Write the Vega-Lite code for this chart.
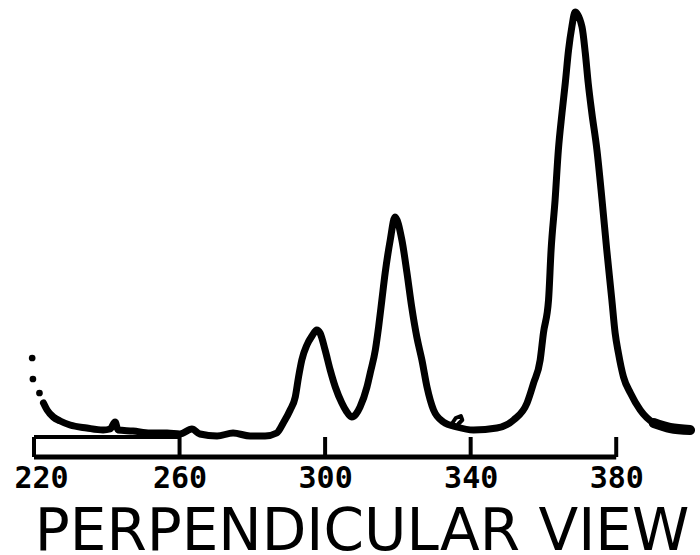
{
  "$schema": "https://vega.github.io/schema/vega-lite/v6.json",
  "autosize": "none",
  "width": 655,
  "height": 447,
  "padding": {"left": 34, "top": 10, "right": 11, "bottom": 98},
  "background": "white",
  "config": {"view": {"stroke": null}},
  "datasets": {
    "trace": [
      {"nm": 222.6, "signal": 54},
      {"nm": 223.6, "signal": 47},
      {"nm": 225.3, "signal": 40},
      {"nm": 227.2, "signal": 36},
      {"nm": 229.9, "signal": 32},
      {"nm": 234.5, "signal": 29},
      {"nm": 239.0, "signal": 27},
      {"nm": 240.9, "signal": 28},
      {"nm": 242.3, "signal": 35},
      {"nm": 243.1, "signal": 27},
      {"nm": 247.2, "signal": 26},
      {"nm": 251.9, "signal": 24},
      {"nm": 256.6, "signal": 24},
      {"nm": 260.1, "signal": 23},
      {"nm": 263.4, "signal": 28},
      {"nm": 265.6, "signal": 23},
      {"nm": 270.3, "signal": 21},
      {"nm": 274.7, "signal": 24},
      {"nm": 279.4, "signal": 21},
      {"nm": 283.5, "signal": 21},
      {"nm": 286.7, "signal": 24},
      {"nm": 288.5, "signal": 34},
      {"nm": 290.4, "signal": 47},
      {"nm": 291.8, "signal": 60},
      {"nm": 292.7, "signal": 80},
      {"nm": 293.6, "signal": 97},
      {"nm": 295.0, "signal": 112},
      {"nm": 296.4, "signal": 121},
      {"nm": 297.7, "signal": 127},
      {"nm": 298.6, "signal": 124},
      {"nm": 300.0, "signal": 107},
      {"nm": 301.4, "signal": 87},
      {"nm": 302.8, "signal": 70},
      {"nm": 304.6, "signal": 54},
      {"nm": 305.8, "signal": 46},
      {"nm": 307.3, "signal": 40},
      {"nm": 308.5, "signal": 43},
      {"nm": 309.6, "signal": 50},
      {"nm": 311.5, "signal": 70},
      {"nm": 312.4, "signal": 84},
      {"nm": 313.8, "signal": 107},
      {"nm": 314.7, "signal": 130},
      {"nm": 315.6, "signal": 157},
      {"nm": 316.5, "signal": 184},
      {"nm": 317.9, "signal": 217},
      {"nm": 319.2, "signal": 240},
      {"nm": 321.1, "signal": 217},
      {"nm": 322.5, "signal": 184},
      {"nm": 323.8, "signal": 150},
      {"nm": 325.2, "signal": 120},
      {"nm": 326.6, "signal": 97},
      {"nm": 328.0, "signal": 70},
      {"nm": 329.8, "signal": 47},
      {"nm": 332.5, "signal": 35},
      {"nm": 336.2, "signal": 30},
      {"nm": 340.8, "signal": 27},
      {"nm": 347.2, "signal": 29},
      {"nm": 351.8, "signal": 37},
      {"nm": 355.5, "signal": 54},
      {"nm": 357.3, "signal": 74},
      {"nm": 359.1, "signal": 97},
      {"nm": 360.0, "signal": 124},
      {"nm": 361.4, "signal": 157},
      {"nm": 362.1, "signal": 207},
      {"nm": 363.2, "signal": 257},
      {"nm": 364.1, "signal": 307},
      {"nm": 365.1, "signal": 344},
      {"nm": 366.0, "signal": 374},
      {"nm": 366.9, "signal": 407},
      {"nm": 367.8, "signal": 430},
      {"nm": 368.7, "signal": 445},
      {"nm": 370.6, "signal": 430},
      {"nm": 371.5, "signal": 404},
      {"nm": 372.3, "signal": 374},
      {"nm": 373.3, "signal": 344},
      {"nm": 374.7, "signal": 307},
      {"nm": 376.1, "signal": 257},
      {"nm": 377.4, "signal": 207},
      {"nm": 378.8, "signal": 157},
      {"nm": 379.7, "signal": 124},
      {"nm": 380.6, "signal": 104},
      {"nm": 382.0, "signal": 80},
      {"nm": 383.9, "signal": 64},
      {"nm": 386.6, "signal": 47},
      {"nm": 390.3, "signal": 34},
      {"nm": 394.8, "signal": 29},
      {"nm": 400.3, "signal": 27}
    ],
    "hook": [
      {"step": 1, "nm": 334.6, "signal": 32},
      {"step": 2, "nm": 335.9, "signal": 39},
      {"step": 3, "nm": 337.3, "signal": 41},
      {"step": 4, "nm": 337.7, "signal": 37},
      {"step": 5, "nm": 336.6, "signal": 33}
    ],
    "dots": [
      {"nm": 219.5, "signal": 99},
      {"nm": 219.7, "signal": 78},
      {"nm": 221.5, "signal": 64}
    ],
    "ticks": [
      {"nm": 220}, {"nm": 260}, {"nm": 300}, {"nm": 340}, {"nm": 380}
    ]
  },
  "layer": [
    {
      "data": {"name": "ticks"},
      "mark": {"type": "rule", "color": "black", "strokeWidth": 4},
      "encoding": {
        "x": {"field": "nm", "type": "quantitative",
              "scale": {"domain": [220, 400], "nice": false, "zero": false},
              "axis": {
                "values": [220, 260, 300, 340, 380],
                "domain": false, "ticks": false, "tickSize": 0, "grid": false,
                "labelFont": "DejaVu Sans Mono", "labelFontWeight": "bold",
                "labelFontSize": 30, "labelColor": "black", "labelPadding": 6,
                "labelFlush": true, "labelFlushOffset": 20,
                "title": "PERPENDICULAR VIEW",
                "titleFont": "DejaVu Sans", "titleFontWeight": "normal",
                "titleFontSize": 58, "titleColor": "black", "titlePadding": 10
              }},
        "y": {"datum": 0, "type": "quantitative",
              "scale": {"domain": [0, 447], "nice": false}, "axis": null},
        "y2": {"datum": 20}
      }
    },
    {
      "data": {"values": [{}]},
      "mark": {"type": "rule", "color": "black", "strokeWidth": 5},
      "encoding": {
        "x": {"datum": 220, "type": "quantitative"},
        "x2": {"datum": 380},
        "y": {"datum": 0, "type": "quantitative"}
      }
    },
    {
      "data": {"values": [{}]},
      "mark": {"type": "rule", "color": "black", "strokeWidth": 4},
      "encoding": {
        "x": {"datum": 220, "type": "quantitative"},
        "x2": {"datum": 260},
        "y": {"datum": 20, "type": "quantitative"}
      }
    },
    {
      "data": {"name": "trace"},
      "mark": {"type": "line", "color": "black", "strokeWidth": 7,
               "interpolate": "monotone",
               "strokeJoin": "round", "strokeCap": "round"},
      "encoding": {
        "x": {"field": "nm", "type": "quantitative"},
        "y": {"field": "signal", "type": "quantitative"}
      }
    },
    {
      "data": {"name": "trace"},
      "transform": [{"filter": "datum.nm >= 390"}],
      "mark": {"type": "line", "color": "black", "strokeWidth": 10,
               "interpolate": "monotone",
               "strokeJoin": "round", "strokeCap": "round"},
      "encoding": {
        "x": {"field": "nm", "type": "quantitative"},
        "y": {"field": "signal", "type": "quantitative"}
      }
    },
    {
      "data": {"name": "hook"},
      "mark": {"type": "line", "color": "black", "strokeWidth": 4,
               "strokeJoin": "round", "strokeCap": "round"},
      "encoding": {
        "x": {"field": "nm", "type": "quantitative"},
        "y": {"field": "signal", "type": "quantitative"},
        "order": {"field": "step", "type": "quantitative"}
      }
    },
    {
      "data": {"name": "dots"},
      "mark": {"type": "point", "filled": true, "color": "black", "opacity": 1, "size": 45},
      "encoding": {
        "x": {"field": "nm", "type": "quantitative"},
        "y": {"field": "signal", "type": "quantitative"}
      }
    }
  ]
}
